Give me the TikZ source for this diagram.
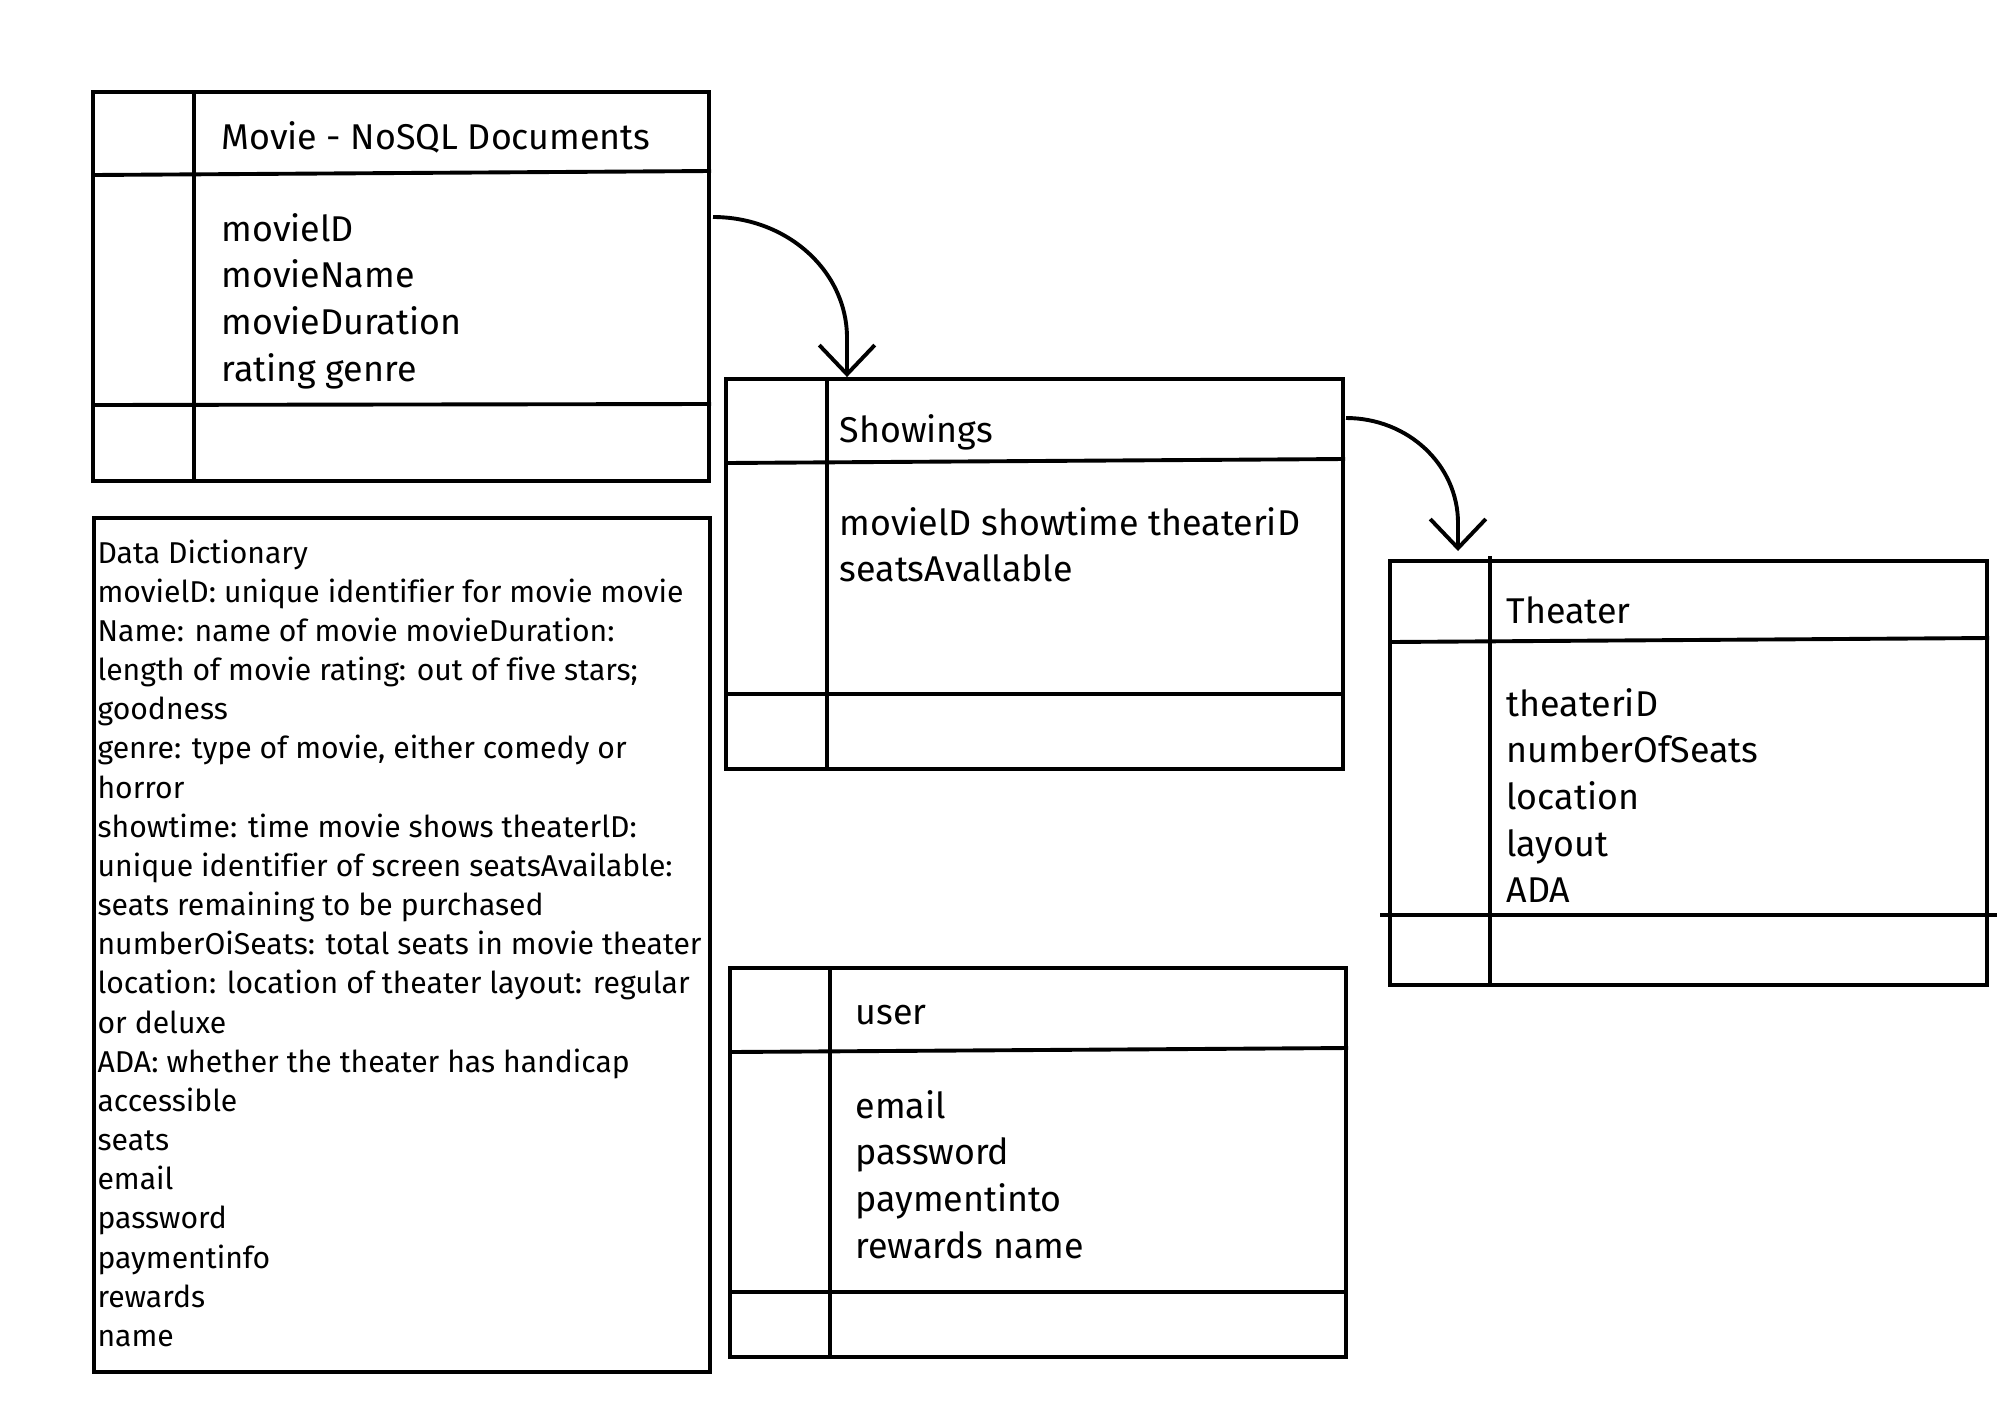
\documentclass[tikz,border=0pt]{standalone}
\usepackage{fontspec}
\setmainfont{Fira Sans}[Ligatures=NoCommon]
\usetikzlibrary{fit,arrows.meta}
\newcommand{\fieldfont}{\fontsize{12.9}{16.8}\selectfont}
\newcommand{\dictfont}{\fontsize{10.85}{14.1}\selectfont}
\begin{document}
\begin{tikzpicture}[x=0.36pt,y=-0.36pt,
  rule/.style={line width=1.4pt},
  tbl/.style={draw,line width=1.4pt,inner sep=0pt},
  fieldtext/.style={anchor=base west,inner sep=0pt,font=\fieldfont},
  dicttext/.style={anchor=base west,inner sep=0pt,font=\dictfont},
  link/.style={line width=1.4pt,-{Straight Barb[length=10.5pt,width=20pt,line width=1.4pt]}}]
\useasboundingbox (0,0) rectangle (2000,1414);
\fill[white] (0,0) rectangle (2000,1414);

% Movie table
\node[tbl,fit={(93,92) (709,481)}] (movie) {};
\draw[rule] (93,175) -- (711,171);
\draw[rule] (194,92) -- (194,481);
\draw[rule] (93,405) -- (711,404);
\node[fieldtext] (movieH) at (221,149) {Movie - NoSQL Documents};
\node[fieldtext] (movieF) at (221,241) {\begin{tabular}[t]{@{}l@{}}movielD\\movieName\\movieDuration\\rating genre\end{tabular}};

% Data dictionary
\node[tbl,fit={(94,518) (710,1372)}] (dict) {};
\node[dicttext] (dictT) at (97,563) {\begin{tabular}[t]{@{}l@{}}Data Dictionary\\
movielD: unique identifier for movie movie\\
Name: name of movie movieDuration:\\
length of movie rating: out of five stars;\\
goodness\\
genre: type of movie, either comedy or\\
horror\\
showtime: time movie shows theaterlD:\\
unique identifier of screen seatsAvailable:\\
seats remaining to be purchased\\
numberOiSeats: total seats in movie theater\\
location: location of theater layout: regular\\
or deluxe\\
ADA: whether the theater has handicap\\
accessible\\
seats\\
email\\
password\\
paymentinfo\\
rewards\\
name\end{tabular}};

% Showings table
\node[tbl,fit={(726,379) (1343,769)}] (show) {};
\draw[rule] (726,463) -- (1345,459);
\draw[rule] (827,379) -- (827,769);
\draw[rule] (726,694) -- (1345,694);
\node[fieldtext] (showH) at (839,442) {Showings};
\node[fieldtext] (showF) at (839,535) {\begin{tabular}[t]{@{}l@{}}movielD showtime theateriD\\seatsAvallable\end{tabular}};

% Theater table
\node[tbl,fit={(1390,561) (1987,985)}] (theater) {};
\draw[rule] (1390,642) -- (1989,638);
\draw[rule] (1490,556) -- (1490,987);
\draw[rule] (1380,915) -- (1997,915);
\node[fieldtext] (theaterH) at (1506,623) {Theater};
\node[fieldtext] (theaterF) at (1506,716) {\begin{tabular}[t]{@{}l@{}}theateriD\\numberOfSeats\\location\\layout\\ADA\end{tabular}};

% User table
\node[tbl,fit={(730,968) (1346,1357)}] (user) {};
\draw[rule] (730,1052) -- (1348,1048);
\draw[rule] (830,968) -- (830,1357);
\draw[rule] (730,1292) -- (1346,1292);
\node[fieldtext] (userH) at (855,1024) {user};
\node[fieldtext] (userF) at (855,1118) {\begin{tabular}[t]{@{}l@{}}email\\password\\paymentinto\\rewards name\end{tabular}};

% Relationship connectors
\coordinate (m2s) at (713,217);
\coordinate (s2t) at (1346,418);
\coordinate (sx) at (847,0);
\coordinate (tx) at (1458,0);
\coordinate (tgap) at (0,551);
\draw[link] (m2s) .. controls (787,217) and (847,271) .. (847,338) -- (show.north -| sx);
\draw[link] (s2t) .. controls (1408,418) and (1458,465) .. (1458,523) -- (tgap -| tx);
\end{tikzpicture}
\end{document}
